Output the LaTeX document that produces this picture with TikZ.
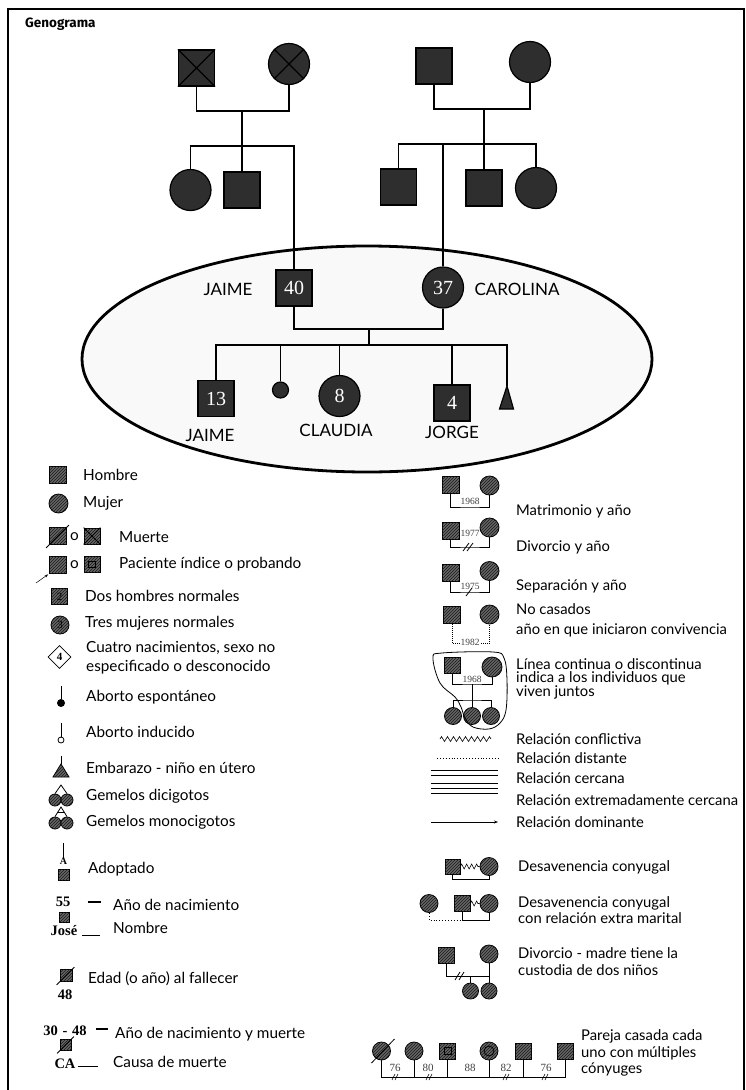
\documentclass[tikz,border=0pt]{standalone}
\usepackage{fontspec}
\setmainfont{Lato}
\newfontfamily\numfont{Liberation Serif}
\newfontfamily\headfont{Fira Sans}
\usetikzlibrary{shapes.geometric,patterns,arrows.meta,decorations.pathmorphing,calc}
\begin{document}
\begin{tikzpicture}[x=1pt,y=-1pt,
  tl/.style={line width=1.6},
  tsq/.style={rectangle, draw, fill=black!82, minimum size=36, inner sep=0, line width=1.2},
  tci/.style={circle, draw, fill=black!82, minimum size=41, inner sep=0, line width=1.2},
  tnum/.style={text=white, font=\numfont\fontsize{20}{20}\selectfont},
  tlab/.style={inner sep=0, font=\fontsize{17}{17}\selectfont},
  hat/.style={draw, line width=0.8, fill=black!60, postaction={pattern=north east lines, pattern color=black!90}},
  lsq/.style={rectangle, hat, minimum size=17, inner sep=0},
  lci/.style={circle, hat, minimum size=19, inner sep=0},
  lt/.style={anchor=west, inner sep=0, font=\fontsize{15.3}{15.3}\selectfont},
  lr/.style={anchor=west, inner sep=0, align=left, font=\fontsize{14.8}{14.8}\selectfont},
  ll/.style={line width=0.8},
  yr/.style={inner sep=0, text=black!75, font=\numfont\fontsize{9.5}{9.5}\selectfont},
  bn/.style={inner sep=0, font=\numfont\bfseries\fontsize{14.5}{14.5}\selectfont}]
\useasboundingbox (0,0) rectangle (746,1090);
\fill[white] (0,0) rectangle (746,1090);
\draw[line width=1.8] (8,1092) -- (8,9) -- (744,9) -- (744,1092);
\node[anchor=west, inner sep=0, font=\headfont\bfseries\fontsize{13.5}{13.5}\selectfont] (title) at (25,24) {Genograma};

% family ellipse
\node[ellipse, draw, line width=2.8, fill=gray!5, minimum width=570, minimum height=226, inner sep=0] (fam) at (367,359) {};

% grandparents
\node[tsq] (gf1) at (196.5,68) {};
\draw[line width=1.2] (gf1.north west) -- (gf1.south east) (gf1.north east) -- (gf1.south west);
\node[tci] (gm1) at (289,64) {};
\draw[line width=1.2] (gm1.north west) -- (gm1.south east) (gm1.north east) -- (gm1.south west);
\node[tsq] (gf2) at (434,66) {};
\node[tci] (gm2) at (530,62) {};
\coordinate (m1) at (242,111); \coordinate (s1) at (242,146);
\coordinate (m2) at (484,109); \coordinate (s2) at (484,144);
\draw[tl] (gf1.south) |- (m1) -| (gm1.south);
\draw[tl] (m1) -- (s1);
\draw[tl] (gf2.south) |- (m2) -| (gm2.south);
\draw[tl] (m2) -- (s2);

% siblings
\node[tci] (a1) at (190.5,190) {};
\node[tsq] (u1) at (242,190) {};
\node[tsq] (u2) at (398.5,187) {};
\node[tsq] (u3) at (484,188) {};
\node[tci] (a2) at (536,188) {};
\node[tsq,tnum] (jaime) at (294,288) {40};
\node[tci,tnum] (carol) at (443,287.5) {37};
\draw[tl] (a1.north) |- (s1) -| (jaime.north);
\draw[tl] (s1) -- (u1.north);
\draw[tl] (u2.north) |- (s2) -| (a2.north);
\draw[tl] (s2) -- (u3.north);
\draw[tl] (carol.north) -- (carol.north |- s2);
\node[tlab] (jl) at (228,289) {JAIME};
\node[tlab] (cl) at (517,289) {CAROLINA};

% children
\coordinate (m3) at (369,329); \coordinate (s3) at (369,345);
\draw[tl] (jaime.south) |- (m3) -| (carol.south);
\draw[tl] (m3) -- (s3);
\node[tsq,tnum] (k1) at (216,398.5) {13};
\node[circle, draw, fill=black!82, line width=1.2, minimum size=16, inner sep=0] (ab) at (280.5,390) {};
\node[tci,tnum] (k2) at (339.5,396) {8};
\node[tsq,tnum] (k3) at (452,403) {4};
\coordinate (tri) at (507,386);
\draw[line width=1.2, fill=black!82] (tri) -- (513.5,409) -- (499.5,409) -- cycle;
\draw[tl] (k1.north) |- (s3) -| (tri);
\draw[tl] (ab.north) -- (ab.north |- s3);
\draw[tl] (k2.north) -- (k2.north |- s3);
\draw[tl] (k3.north) -- (k3.north |- s3);
\node[tlab] (l1) at (210,435) {JAIME};
\node[tlab] (l2) at (336,430) {CLAUDIA};
\node[tlab] (l3) at (452,432) {JORGE};

% ---------- legend left ----------
\node[lsq] (h) at (58,475) {};
\node[lt] at (83,475) {Hombre};
\node[lci] (mu) at (58.5,503.5) {};
\node[lt] at (83,503) {Mujer};

\node[lsq] (d1) at (58,536) {};
\draw[ll] ([shift={(-3,3)}]d1.south west) -- ([shift={(2,-2)}]d1.north east);
\node[lt] at (70,537) {o};
\node[lsq, minimum size=16] (d2) at (92,536) {};
\draw[ll] (d2.north west) -- (d2.south east) (d2.north east) -- (d2.south west);
\node[lt] at (119,537) {Muerte};

\node[lsq] (p1) at (58,564.5) {};
\coordinate (parr) at (36,583);
\draw[line width=0.5, -{Stealth[length=3.5]}] (parr) -- ([shift={(-1,1)}]p1.south west);
\node[lt] at (70,565) {o};
\node[lsq, minimum size=16] (p2) at (92,564.5) {};
\node[draw, line width=0.8, minimum size=6.5, inner sep=0] (p2i) at (p2) {};
\node[lt] at (119,564) {Paciente índice o probando};

\node[lsq, minimum size=16] (dos) at (59.5,596.5) {\numfont\fontsize{11}{11}\selectfont 2};
\node[lt] at (85,596) {Dos hombres normales};
\node[lci, minimum size=18] (tres) at (60,625) {\numfont\fontsize{11}{11}\selectfont 3};
\node[lt] at (85,623) {Tres mujeres normales};

\node[diamond, draw, line width=0.8, minimum size=23, inner sep=0] (cua) at (59.5,657) {\numfont\bfseries\fontsize{11}{11}\selectfont 4};
\node[lt, align=left, font=\fontsize{15.3}{19}\selectfont] at (86,657.5) {Cuatro nacimientos, sexo no\\especificado o desconocido};

\node[circle, fill, minimum size=8, inner sep=0] (ae) at (61,703) {};
\coordinate (aet) at (61,686);
\draw[ll] (aet) -- (ae);
\node[lt] at (86,697) {Aborto espontáneo};

\node[circle, draw, line width=0.8, minimum size=6, inner sep=0] (ai) at (61,740) {};
\coordinate (ait) at (61,723);
\draw[ll] (ait) -- (ai);
\node[lt] at (86,732) {Aborto inducido};

\coordinate (emt) at (61,756); \coordinate (ema) at (61,764);
\draw[ll] (emt) -- (ema);
\draw[hat] (ema) -- (69,777) -- (53,777) -- cycle;
\node[lt] at (86,768) {Embarazo - niño en útero};

\node[lci, minimum size=12] (g1) at (55,800) {};
\node[lci, minimum size=12] (g2) at (67,800) {};
\coordinate (gap1) at (61,785);
\draw[ll] (g1.north) -- (gap1) -- (g2.north);
\node[lt] at (86,796) {Gemelos dicigotos};

\node[lci, minimum size=12] (g3) at (55,823) {};
\node[lci, minimum size=12] (g4) at (67,823) {};
\coordinate (gap2) at (61,807);
\draw[ll] (g3.north) -- (gap2) -- (g4.north);
\draw[ll] ($(gap2)!0.6!(g3.north)$) -- ($(gap2)!0.6!(g4.north)$);
\node[lt] at (86,822) {Gemelos monocigotos};

\coordinate (adt) at (63.5,843);
\node[inner sep=0, font=\numfont\bfseries\fontsize{10}{10}\selectfont] (adA) at (63.5,861) {A};
\draw[ll] (adt) -- (adA.north);
\node[lsq, minimum size=11] (adq) at (63.5,874.5) {};
\node[lt] at (88,869) {Adoptado};

\node[bn] (n55) at (63,902) {55};
\node[lsq, minimum size=10] (jq) at (64,917) {};
\node[bn] (jose) at (64,931) {José};
\node[inner sep=0] (d55) at (94,902) {\rule{13pt}{1.2pt}};
\node[lt] at (113,905) {Año de nacimiento};
\node[inner sep=0] (jr) at (91,935) {\rule{18pt}{1pt}};
\node[lt] at (113,928) {Nombre};

\node[lsq, minimum size=12] (eq) at (66,975.5) {};
\draw[ll] ([shift={(-3,3)}]eq.south west) -- ([shift={(2,-2)}]eq.north east);
\node[bn] (e48) at (65,995) {48};
\node[lt] at (88,979) {Edad (o año) al fallecer};

\node[bn] (n3048) at (65,1031) {30\,\,-\,\,48};
\node[inner sep=0] (d3048) at (102,1029) {\rule{12pt}{1.2pt}};
\node[lt] at (115,1034) {Año de nacimiento y muerte};
\node[lsq, minimum size=11] (cq) at (66,1044.5) {};
\draw[ll] ([shift={(-3,3)}]cq.south west) -- ([shift={(2,-2)}]cq.north east);
\node[bn] (ca) at (65,1064) {CA};
\node[inner sep=0] (car) at (88,1066) {\rule{20pt}{1pt}};
\node[lt] at (113,1062) {Causa de muerte};

% ---------- legend right ----------
\node[lsq] (ma1) at (450.5,485) {};
\node[lci] (ma2) at (489.5,485.5) {};
\coordinate (mab) at (470,507);
\draw[ll] (ma1.south) |- (mab) -| (ma2.south);
\node[yr] at (470,501) {1968};
\node[lr] at (516,511) {Matrimonio y año};

\node[lsq] (dv1) at (450.5,530.5) {};
\node[lci] (dv2) at (489.5,527.5) {};
\coordinate (dvb) at (470,547);
\draw[ll] (dv1.south) |- (dvb) -| (dv2.south);
\node[yr] at (470,533) {1977};
\draw[ll] (463,551) -- (469,543) (467,551) -- (473,543);
\node[lr] at (516,547) {Divorcio y año};

\node[lsq] (sp1) at (450.5,573) {};
\node[lci] (sp2) at (489.5,571) {};
\coordinate (spb) at (470,592);
\draw[ll] (sp1.south) |- (spb) -| (sp2.south);
\node[yr] at (470,586) {1975};
\draw[ll] (466,596) -- (472,588);
\node[lr] at (516,586) {Separación y año};

\node[lsq] (nc1) at (452,615) {};
\node[lci] (nc2) at (489.5,614.5) {};
\coordinate (ncb) at (470,643);
\draw[line width=1, densely dotted] (nc1.south) |- (ncb) -| (nc2.south);
\node[yr, fill=white, inner sep=0.5] at (470,642) {1982};
\node[lr, font=\fontsize{14.8}{20}\selectfont] at (516,620) {No casados\\año en que iniciaron convivencia};

\node[lsq, minimum size=16] (lt1) at (452.5,665.5) {};
\node[lci, minimum size=20] (lt2) at (492,667) {};
\coordinate (ltm) at (472,684); \coordinate (ltc) at (472,700);
\draw[ll] (lt1.south) |- (ltm) -| (lt2.south);
\draw[ll] (ltm) -- (ltc);
\node[yr] at (472,679) {1968};
\node[lci, minimum size=17] (lc1) at (453,716) {};
\node[lci, minimum size=17] (lc2) at (472,716) {};
\node[lci, minimum size=17] (lc3) at (491,716) {};
\draw[ll] (lc1.north) |- (ltc) -| (lc3.north);
\draw[ll] (ltc) -- (lc2.north);
\draw[ll] plot[smooth cycle, tension=0.6] coordinates {(433,658) (442,653) (493,652) (504,658) (507,680) (506,710) (500,723) (489,729) (473,727) (465,718) (461,707) (455,697) (440,683)};
\node[lr, font=\fontsize{14.8}{13.5}\selectfont] at (516,678.5) {Línea continua o discontinua\\indica a los individuos que\\viven juntos};

\coordinate (r1a) at (440,739); \coordinate (r1b) at (491,739);
\draw[line width=0.6, decorate, decoration={zigzag, segment length=6, amplitude=2.5}] (r1a) -- (r1b);
\node[lr] at (516,739) {Relación conflictiva};
\coordinate (r2a) at (437,758); \coordinate (r2b) at (498,758);
\draw[line width=0.9, dotted] (r2a) -- (r2b);
\node[lr] at (516,758) {Relación distante};
\coordinate (r3a) at (431,775); \coordinate (r3b) at (498,775);
\draw[ll] (r3a) -- (r3b) ([yshift=5]r3a) -- ([yshift=5]r3b);
\node[lr] at (516,778) {Relación cercana};
\coordinate (r4a) at (431,793); \coordinate (r4b) at (498,793);
\draw[ll] (r4a) -- (r4b) ([yshift=5]r4a) -- ([yshift=5]r4b) ([yshift=10]r4a) -- ([yshift=10]r4b);
\node[lr] at (516,800) {Relación extremadamente cercana};
\coordinate (r5a) at (431,822); \coordinate (r5b) at (498,822);
\draw[ll, -{Stealth[length=4]}] (r5a) -- (r5b);
\node[lr] at (516,822) {Relación dominante};

\node[lsq, minimum size=15] (dc1) at (452.5,866.5) {};
\node[lci, minimum size=18] (dc2) at (489,866.5) {};
\coordinate (dcb) at (470,879);
\draw[ll] (dc1.south) |- (dcb) -| (dc2.south);
\draw[line width=0.6, decorate, decoration={zigzag, segment length=5, amplitude=2.5}] (dc1.east) -- (dc2.west);
\node[lr] at (518,867) {Desavenencia conyugal};

\node[lci, minimum size=18] (em0) at (429,903.5) {};
\node[lsq, minimum size=16] (em1) at (462,903.5) {};
\node[lci, minimum size=18] (em2) at (489,903.5) {};
\coordinate (emb) at (475,920);
\draw[ll] (em1.south) |- (emb) -| (em2.south);
\draw[line width=0.6, decorate, decoration={zigzag, segment length=5, amplitude=2.5}] (em1.east) -- (em2.west);
\draw[line width=0.9, dotted] (em0.south) |- (em1.south |- emb);
\node[lr, font=\fontsize{14.8}{16}\selectfont] at (518,910) {Desavenencia conyugal\\con relación extra marital};

\node[lsq, minimum size=16] (dm1) at (446.5,955.5) {};
\node[lci, minimum size=18] (dm2) at (489,954) {};
\coordinate (dmb) at (470.5,976);
\draw[ll] (dm1.south) |- (dmb) -| (dm2.south);
\draw[ll] (455,980) -- (460,972) (459,980) -- (464,972);
\node[lci, minimum size=16] (dk1) at (470.5,991) {};
\node[lci, minimum size=16] (dk2) at (489,991) {};
\draw[ll] (dmb) -- (dk1.north);
\draw[ll] (dm2.south) -- (dk2.north);
\node[lr, font=\fontsize{14.8}{17}\selectfont] at (518,961.5) {Divorcio - madre tiene la\\custodia de dos niños};

\node[lci, minimum size=18] (ms1) at (381.5,1051) {};
\draw[ll] ([shift={(-10,12)}]ms1.center) -- ([shift={(13,-12)}]ms1.center);
\node[lci, minimum size=18] (ms2) at (414,1051) {};
\node[lsq, minimum size=16] (ms3) at (447.5,1051) {};
\node[draw, line width=0.8, minimum size=7, inner sep=0] (ms3i) at (ms3) {};
\node[lci, minimum size=18] (ms4) at (489,1051) {};
\node[circle, draw, line width=0.8, minimum size=10, inner sep=0] (ms4i) at (ms4) {};
\node[lsq, minimum size=16] (ms5) at (523.5,1051) {};
\node[lsq, minimum size=16] (ms6) at (565.5,1051) {};
\coordinate (msb) at (470,1077);
\draw[ll] (ms1.south) |- (msb) -| (ms6.south);
\draw[ll] (ms2.south) -- (ms2.south |- msb);
\draw[ll] (ms3.south) -- (ms3.south |- msb);
\draw[ll] (ms4.south) -- (ms4.south |- msb);
\draw[ll] (ms5.south) -- (ms5.south |- msb);
\node[yr, font=\numfont\fontsize{11}{11}\selectfont] at (395,1068) {76};
\node[yr, font=\numfont\fontsize{11}{11}\selectfont] at (428,1068) {80};
\node[yr, font=\numfont\fontsize{11}{11}\selectfont] at (470,1068) {88};
\node[yr, font=\numfont\fontsize{11}{11}\selectfont] at (506,1068) {82};
\node[yr, font=\numfont\fontsize{11}{11}\selectfont] at (546,1068) {76};
\foreach \sx in {395,429,506,545} {
  \draw[line width=0.6] (\sx-3,1080) -- (\sx,1074) (\sx,1080) -- (\sx+3,1074);
}
\node[lr, font=\fontsize{14.8}{16.5}\selectfont] at (581,1053) {Pareja casada cada\\uno con múltiples\\cónyuges};
\end{tikzpicture}
\end{document}
